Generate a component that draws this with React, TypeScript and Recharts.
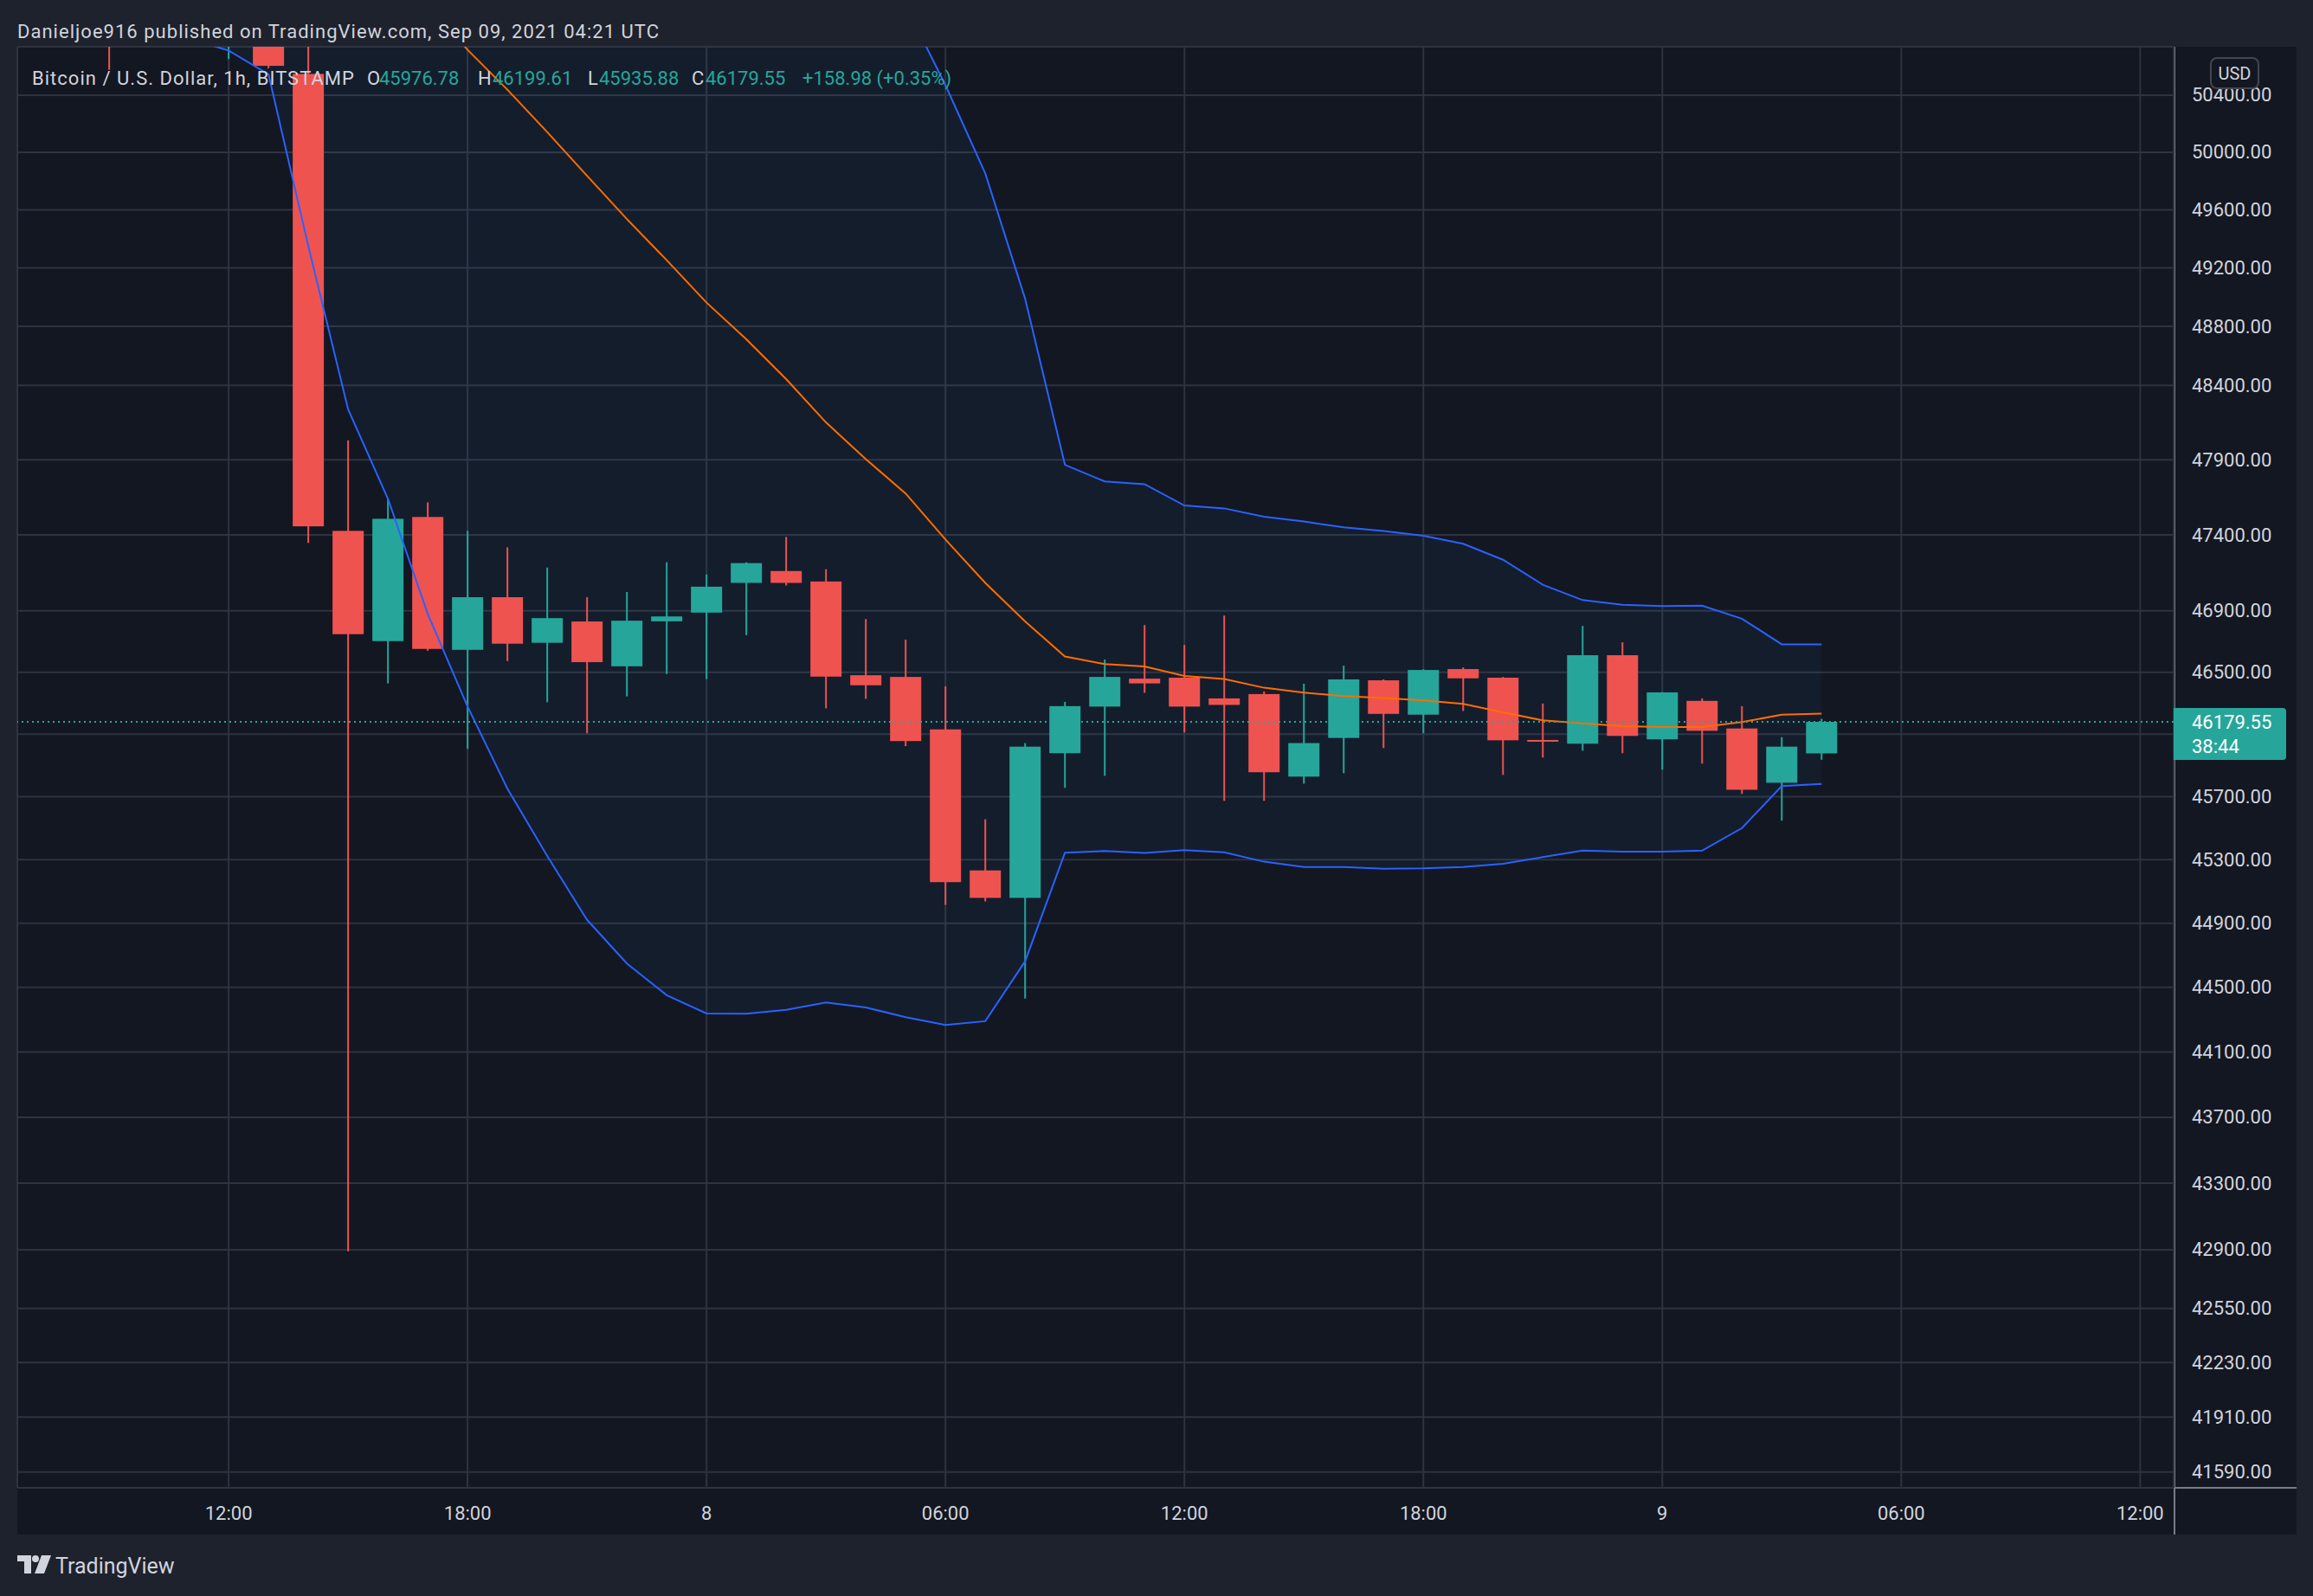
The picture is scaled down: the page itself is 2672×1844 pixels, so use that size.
import React from "react";
import {
  ComposedChart,
  Bar,
  Line,
  Area,
  XAxis,
  YAxis,
  CartesianGrid,
  ReferenceLine,
} from "recharts";

// hours since Sep 7 00:00 UTC, one row per 1h candle
const HOURS = [
  9, 10, 11, 12, 13, 14, 15, 16, 17, 18, 19, 20, 21, 22, 23, 24, 25, 26, 27, 28, 29, 30,
  31, 32, 33, 34, 35, 36, 37, 38, 39, 40, 41, 42, 43, 44, 45, 46, 47, 48, 49, 50, 51, 52,
];

const OPEN = [
  51150, null, null, 50850, 51000, 50550, 47427, 46703, 47519, 46646, 46990, 46692, 46831,
  46539, 46832, 46889, 47084, 47162, 47093, 46481, 46470, 46131, 45232, 45059, 45978, 46278,
  46459, 46465, 46331, 46359, 45828, 46076, 46448, 46226, 46521, 46465, 46063, 46039, 46611,
  46067, 46315, 46137, 45789, 45976.78,
];
const HIGH = [
  51300, null, null, 51100, 51100, 50800, 48030, 47639, 47616, 47427, 47318, 47185, 46990,
  47024, 47220, 47139, 47220, 47387, 47174, 46847, 46712, 46409, 45556, 46043, 46309, 46583,
  46808, 46678, 46870, 46376, 46426, 46543, 46454, 46520, 46532, 46470, 46298, 46802, 46695,
  46372, 46331, 46281, 46081, 46199.61,
];
const LOW = [
  50579, null, null, 50655, 50590, 47348, 42890, 46428, 46640, 46006, 46573, 46306, 46106,
  46344, 46489, 46456, 46742, 47067, 46267, 46328, 46023, 45015, 45037, 44430, 45756, 45833,
  46367, 46111, 45673, 45673, 45783, 45850, 46011, 46106, 46250, 45839, 45950, 45994, 45978,
  45872, 45911, 45717, 45547, 45935.88,
];
const CLOSE = [
  50850, null, null, 51000, 50607, 47457, 46748, 47507, 46652, 46990, 46686, 46853, 46566,
  46836, 46864, 47059, 47214, 47084, 46472, 46416, 46056, 45158, 45059, 46020, 46281, 46470,
  46428, 46278, 46289, 45856, 46043, 46454, 46231, 46515, 46461, 46061, 46052, 46611, 46089,
  46370, 46122, 45744, 46020, 46179.55,
];

// Bollinger Bands (20, 2)
const BB_UPPER = [
  null, null, 53500, 53800, 54000, 54600, 55000, 55200, 55220, 55162, 55127, 54959, 54751,
  54424, 54055, 53586, 53088, 52523, 51894, 51433, 51035, 50470, 49853, 48989, 47866, 47755,
  47737, 47595, 47576, 47521, 47489, 47450, 47426, 47395, 47342, 47236, 47072, 46971, 46940,
  46932, 46934, 46849, 46682, 46682,
];
const BB_BASIS = [
  null, null, null, null, null, null, null, null, 51050, 50720, 50439, 50141, 49836, 49536,
  49253, 48962, 48712, 48442, 48150, 47904, 47675, 47370, 47084, 46831, 46603, 46553, 46538,
  46476, 46457, 46400, 46368, 46346, 46333, 46318, 46296, 46241, 46189, 46170, 46152, 46146,
  46146, 46178, 46226, 46233,
];
const BB_LOWER = [
  null, null, 50800, 50715, 50547, 49350, 48238, 47640, 46880, 46278, 45751, 45323, 44921,
  44648, 44451, 44338, 44336, 44361, 44406, 44375, 44315, 44267, 44290, 44662, 45344, 45355,
  45342, 45360, 45346, 45287, 45253, 45253, 45242, 45245, 45254, 45274, 45316, 45358, 45351,
  45351, 45357, 45500, 45768, 45781,
];

const PRICE_TICKS = [
  50400, 50000, 49600, 49200, 48800, 48400, 47900, 47400, 46900, 46500, 46100, 45700, 45300,
  44900, 44500, 44100, 43700, 43300, 42900, 42550, 42230, 41910, 41590,
];
const HIDDEN_TICK = 46100; // sits under the last-price tag
const TIME_TICKS = [12, 18, 24, 30, 36, 42, 48, 54, 60];
const TIME_LABELS = ["12:00", "18:00", "8", "06:00", "12:00", "18:00", "9", "06:00", "12:00"];

const LAST_PRICE = 46179.55;
const COUNTDOWN = "38:44";

const W = 2672;
const H = 1844;
const FRAME = "#1e222d";
const PANEL = "#131722";
const GRID = "#2f3340";
const SCALE_LINE = "#787b86";
const TEXT = "#d1d4dc";
const UP = "#26a69a";
const DOWN = "#ef5350";
const BAND = "#2962ff";
const BASIS = "#ff6d00";
const FONT = "Roboto, 'Liberation Sans', Arial, sans-serif";

const rows = HOURS.map((t, i) => ({
  t,
  open: OPEN[i],
  high: HIGH[i],
  low: LOW[i],
  close: CLOSE[i],
  upper: BB_UPPER[i],
  basis: BB_BASIS[i],
  lower: BB_LOWER[i],
}));

const Candle = (props: any) => {
  const { x, y, width, height, payload } = props;
  if (!payload || payload.open == null || !isFinite(y) || !isFinite(height)) return <g />;
  const { open, close, high, low } = payload;
  const color = close >= open ? UP : DOWN;
  const lnH = Math.log(high);
  const lnL = Math.log(low);
  // log axis: place open/close between the high and low pixels
  const py = (p: number) => y + (height * (lnH - Math.log(p))) / (lnH - lnL);
  const cx = x + width / 2;
  const top = py(Math.max(open, close));
  const bot = py(Math.min(open, close));
  return (
    <g>
      <line x1={cx} x2={cx} y1={y} y2={y + height} stroke={color} strokeWidth={2} />
      <rect x={cx - 18} y={top} width={36} height={Math.max(2, bot - top)} fill={color} />
    </g>
  );
};

const PriceTick = ({ y, payload }: any) =>
  payload.value === HIDDEN_TICK ? (
    <g />
  ) : (
    <text x={2532} y={y} dominantBaseline="central" fill={TEXT} fontSize={22} fontFamily={FONT}>
      {payload.value.toFixed(2)}
    </text>
  );

const TimeTick = ({ x, payload }: any) => (
  <text x={x} y={1748} textAnchor="middle" dominantBaseline="central" fill={TEXT} fontSize={22} fontFamily={FONT}>
    {TIME_LABELS[TIME_TICKS.indexOf(payload.value)]}
  </text>
);

const PriceTag = (props: any) => {
  const vb = props.viewBox;
  if (!vb) return null;
  const x0 = vb.x + vb.width;
  const y0 = vb.y;
  return (
    <g>
      <path
        d={`M${x0} ${y0 - 16} H${x0 + 126} a4 4 0 0 1 4 4 V${y0 + 40} a4 4 0 0 1 -4 4 H${x0} Z`}
        fill={UP}
      />
      <text x={x0 + 21} y={y0} dominantBaseline="central" fill="#ffffff" fontSize={22} fontFamily={FONT}>
        {LAST_PRICE.toFixed(2)}
      </text>
      <text x={x0 + 21} y={y0 + 28} dominantBaseline="central" fill="#ffffff" fontSize={22} fontFamily={FONT}>
        {COUNTDOWN}
      </text>
    </g>
  );
};

export default function App() {
  return (
    <div
      style={{
        position: "absolute",
        left: 0,
        top: 0,
        width: W,
        height: H,
        background: FRAME,
        overflow: "hidden",
      }}
    >
      <div style={{ position: "absolute", left: 20, top: 54, width: 2633, height: 1719, background: PANEL }} />
      {/* scale separators */}
      <div style={{ position: "absolute", left: 20, top: 1718, width: 2633, height: 2, background: SCALE_LINE }} />
      <div style={{ position: "absolute", left: 2511, top: 54, width: 2, height: 1719, background: SCALE_LINE }} />

      <div style={{ position: "absolute", left: 0, top: 0 }}>
        <ComposedChart width={W} height={H} data={rows} margin={{ top: 54, right: 19, bottom: 71, left: 20 }}>
          <CartesianGrid stroke={GRID} strokeWidth={2} />
          <XAxis
            dataKey="t"
            type="number"
            domain={[6.693, 60.84]}
            allowDataOverflow
            ticks={TIME_TICKS}
            interval={0}
            height={54}
            axisLine={false}
            tickLine={false}
            tick={(p: any) => <TimeTick {...p} />}
          />
          <YAxis
            orientation="right"
            type="number"
            scale="log"
            domain={[41498, 50742]}
            allowDataOverflow
            ticks={PRICE_TICKS}
            interval={0}
            width={142}
            axisLine={false}
            tickLine={false}
            tick={(p: any) => <PriceTick {...p} />}
          />
          <Area
            dataKey={(d: any) => (d.lower == null ? null : [d.lower, d.upper])}
            stroke="none"
            fill="#2196f3"
            fillOpacity={0.05}
            isAnimationActive={false}
          />
          <Line dataKey="upper" stroke={BAND} strokeWidth={2} dot={false} isAnimationActive={false} />
          <Line dataKey="lower" stroke={BAND} strokeWidth={2} dot={false} isAnimationActive={false} />
          <Line dataKey="basis" stroke={BASIS} strokeWidth={2} dot={false} isAnimationActive={false} />
          <Bar
            dataKey={(d: any) => (d.low == null ? null : [d.low, d.high])}
            barSize={36}
            shape={(p: any) => <Candle {...p} />}
            isAnimationActive={false}
          />
          <ReferenceLine
            y={LAST_PRICE}
            stroke={UP}
            strokeWidth={2}
            strokeDasharray="2 4"
            label={(p: any) => <PriceTag {...p} />}
          />
        </ComposedChart>
      </div>

      <svg
        width={W}
        height={H}
        style={{ position: "absolute", left: 0, top: 0, pointerEvents: "none" }}
        fontFamily={FONT}
      >
        <text x={20} y={44} fill={TEXT} fontSize={22} textLength={741} lengthAdjust="spacing">
          Danieljoe916 published on TradingView.com, Sep 09, 2021 04:21 UTC
        </text>
        <g fontSize={22}>
          <text x={37} y={98} fill={TEXT} textLength={372} lengthAdjust="spacing">
            Bitcoin / U.S. Dollar, 1h, BITSTAMP
          </text>
          <text x={424} y={98} fill={TEXT}>O</text>
          <text x={438} y={98} fill={UP}>{OPEN[OPEN.length - 1]?.toFixed(2)}</text>
          <text x={552} y={98} fill={TEXT}>H</text>
          <text x={569} y={98} fill={UP}>{HIGH[HIGH.length - 1]?.toFixed(2)}</text>
          <text x={679} y={98} fill={TEXT}>L</text>
          <text x={692} y={98} fill={UP}>{LOW[LOW.length - 1]?.toFixed(2)}</text>
          <text x={799} y={98} fill={TEXT}>C</text>
          <text x={815} y={98} fill={UP}>{CLOSE[CLOSE.length - 1]?.toFixed(2)}</text>
          <text x={927} y={98} fill={UP}>+158.98 (+0.35%)</text>
        </g>
        <rect x={2554} y={67} width={55} height={35} rx={7} fill={PANEL} stroke="#434651" strokeWidth={2} />
        <text x={2581.5} y={85} textAnchor="middle" dominantBaseline="central" fill={TEXT} fontSize={20}>
          USD
        </text>
        {/* TradingView logo */}
        <g fill={TEXT}>
          <path d="M20 1797 H36 V1818 H28 V1804 H20 Z" />
          <circle cx={41} cy={1801} r={4} />
          <path d="M48 1797 H59 L51 1818 H40 Z" />
        </g>
        <text x={64} y={1818} fill={TEXT} fontSize={25}>
          TradingView
        </text>
      </svg>
    </div>
  );
}
